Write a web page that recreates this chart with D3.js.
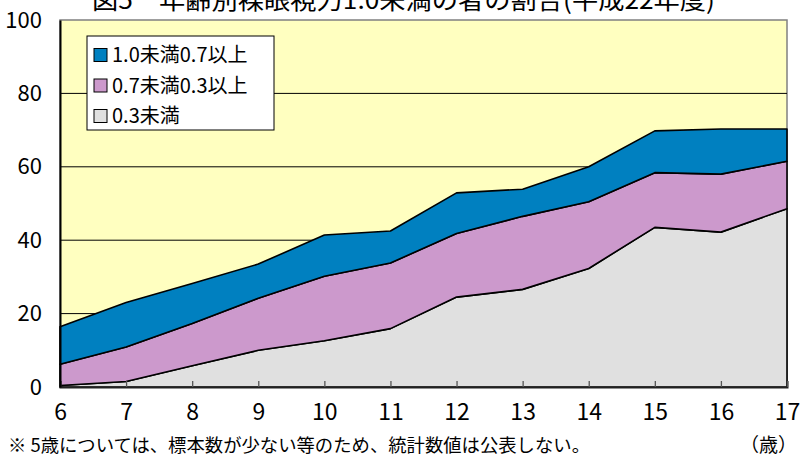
<!DOCTYPE html>
<html>
<head>
<meta charset="utf-8">
<script src="https://cdn.jsdelivr.net/npm/d3@7"></script>
<style>
  body { margin: 0; background: #fff; }
  text { font-family: "Noto Sans CJK JP", "Noto Sans", sans-serif; fill: #000; }
</style>
</head>
<body>
<script>
    // data (percent, Heisei 22)
    const ages = [6, 7, 8, 9, 10, 11, 12, 13, 14, 15, 16, 17];
    const under03 = [0.4, 1.5, 5.8, 10.0, 12.6, 15.9, 24.5, 26.6, 32.3, 43.5, 42.2, 48.6];
    const from03to07 = [5.8, 9.4, 11.5, 14.2, 17.6, 17.9, 17.3, 19.9, 18.2, 14.9, 15.8, 12.9];
    const from07to10 = [10.2, 12.1, 10.9, 9.3, 11.2, 8.7, 11.1, 7.4, 9.5, 11.4, 12.3, 8.8];
    const seriesNames = ["0.3未満", "0.7未満0.3以上", "1.0未満0.7以上"];
    const seriesColors = ["#e0e0e0", "#cc99cc", "#0080c0"];
    const yTicks = [0, 20, 40, 60, 80, 100];

    const width = 802, height = 463;
    const margin = { left: 60, right: 15, top: 20, bottom: 76 };

    const svg = d3.select("body").append("svg")
        .attr("width", width)
        .attr("height", height);

    const x = d3.scaleLinear()
        .domain([ages[0], ages[ages.length - 1]])
        .range([margin.left, width - margin.right]);
    const y = d3.scaleLinear()
        .domain([0, 100])
        .range([height - margin.bottom, margin.top]);

    const rows = ages.map((a, i) => ({ age: a, s0: under03[i], s1: from03to07[i], s2: from07to10[i] }));
    const stacked = d3.stack().keys(["s0", "s1", "s2"])(rows);

    // title, mostly cut off at the top (as in the reference)
    svg.append("text")
        .attr("x", 92).attr("y", 9)
        .attr("font-size", 24)
        .attr("textLength", 623)
        .attr("lengthAdjust", "spacingAndGlyphs")
        .text("図5　年齢別裸眼視力1.0未満の者の割合(平成22年度)");

    // plot background
    svg.append("rect")
        .attr("x", x.range()[0]).attr("y", y(100))
        .attr("width", x.range()[1] - x.range()[0])
        .attr("height", y(0) - y(100))
        .attr("fill", "#ffffc0")
        .attr("stroke", "#808080")
        .attr("stroke-width", 1.5);

    // gridlines
    svg.append("g")
        .selectAll("line")
        .data(yTicks.filter(d => d > 0 && d < 100))
        .join("line")
        .attr("x1", x.range()[0]).attr("x2", x.range()[1])
        .attr("y1", d => y(d)).attr("y2", d => y(d))
        .attr("stroke", "#000")
        .attr("stroke-width", 1);

    const area = d3.area()
        .x(d => x(d.data.age))
        .y0(d => y(d[0]))
        .y1(d => y(d[1]));

    svg.append("g")
        .selectAll("path")
        .data(stacked)
        .join("path")
        .attr("d", area)
        .attr("fill", (d, i) => seriesColors[i])
        .attr("stroke", "#000")
        .attr("stroke-width", 1.6)
        .attr("stroke-linejoin", "round");

    // x axis: ticks point inward
    const xAxis = svg.append("g")
        .attr("transform", `translate(0,${y(0)})`)
        .call(d3.axisBottom(x).tickValues(ages).tickSize(-6).tickPadding(17).tickFormat(d3.format("d")));
    xAxis.select(".domain").attr("stroke", "#222").attr("stroke-width", 2);
    xAxis.selectAll(".tick line").attr("stroke", "#555").attr("stroke-width", 1.3);
    xAxis.selectAll(".tick text").attr("font-size", 23).attr("font-family", "\"Noto Sans CJK JP\", sans-serif");

    const yAxis = svg.append("g")
        .attr("transform", `translate(${x.range()[0]},0)`)
        .call(d3.axisLeft(y).tickValues(yTicks).tickSize(0).tickPadding(18));
    yAxis.select(".domain").attr("stroke", "#000").attr("stroke-width", 2);
    yAxis.selectAll(".tick text").attr("font-size", 22).attr("font-family", "\"Noto Sans CJK JP\", sans-serif");

    // legend
    const lg = svg.append("g").attr("transform", "translate(87,36)");
    lg.append("rect")
        .attr("width", 187).attr("height", 94)
        .attr("fill", "#fff").attr("stroke", "#000").attr("stroke-width", 1);
    const order = [2, 1, 0];
    const item = lg.selectAll("g.item")
        .data(order)
        .join("g")
        .attr("class", "item")
        .attr("transform", (d, i) => `translate(7,${19 + i * 30.5})`);
    item.append("rect")
        .attr("x", 0).attr("y", -6.5)
        .attr("width", 13).attr("height", 13)
        .attr("fill", d => seriesColors[d])
        .attr("stroke", "#000").attr("stroke-width", 1);
    item.append("text")
        .attr("x", 18).attr("y", 0)
        .attr("dy", "0.35em")
        .attr("font-size", 20)
        .text(d => seriesNames[d]);

    // footnote
    svg.append("text")
        .attr("x", 8).attr("y", 452)
        .attr("font-size", 18)
        .attr("textLength", 582)
        .attr("lengthAdjust", "spacingAndGlyphs")
        .text("※  5歳については、標本数が少ない等のため、統計数値は公表しない。");
    svg.append("text")
        .attr("x", 797).attr("y", 452)
        .attr("text-anchor", "end")
        .attr("font-size", 19)
        .text("（歳）");
</script>
</body>
</html>
